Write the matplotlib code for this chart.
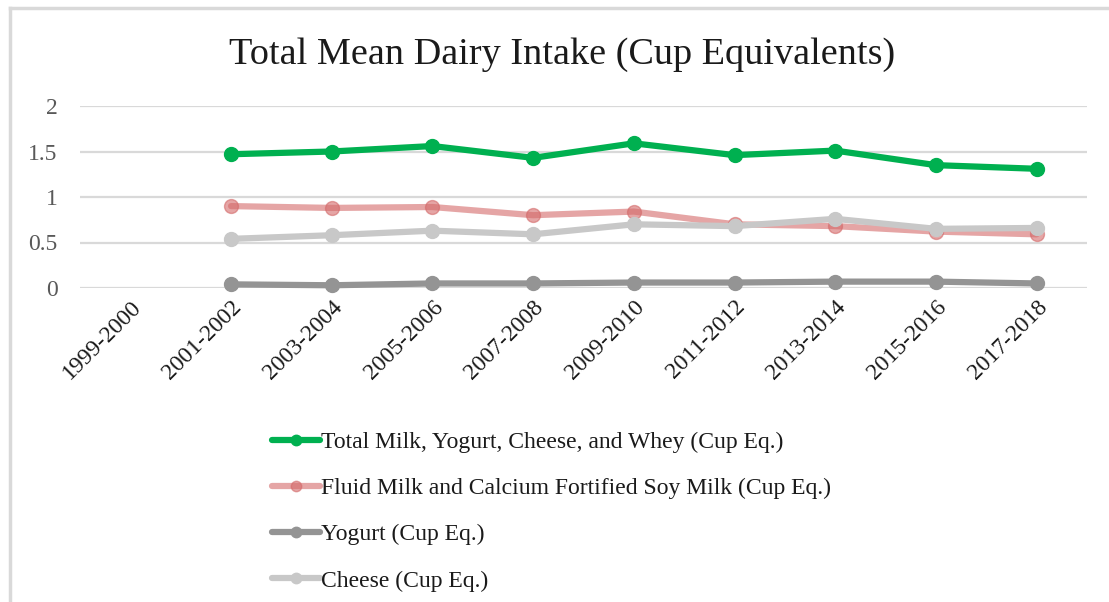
import matplotlib.pyplot as plt
from matplotlib.lines import Line2D
import numpy as np

periods = ["1999-2000", "2001-2002", "2003-2004", "2005-2006", "2007-2008",
           "2009-2010", "2011-2012", "2013-2014", "2015-2016", "2017-2018"]

# no values for 1999-2000
total = [None, 1.47, 1.50, 1.56, 1.43, 1.59, 1.46, 1.51, 1.35, 1.31]
fluid_milk = [None, 0.90, 0.88, 0.89, 0.80, 0.84, 0.70, 0.68, 0.62, 0.59]
yogurt = [None, 0.04, 0.03, 0.05, 0.05, 0.06, 0.06, 0.07, 0.07, 0.05]
cheese = [None, 0.54, 0.58, 0.63, 0.59, 0.70, 0.68, 0.76, 0.65, 0.66]

labels = ["Total Milk, Yogurt, Cheese, and Whey (Cup Eq.)",
          "Fluid Milk and Calcium Fortified Soy Milk (Cup Eq.)",
          "Yogurt (Cup Eq.)",
          "Cheese (Cup Eq.)"]

plt.rcParams["font.family"] = ["Liberation Serif", "DejaVu Serif"]

W, H = 1109, 602
fig = plt.figure(figsize=(W / 100, H / 100), dpi=100)
ax = fig.add_axes([80 / W, 1 - 288 / H, 1007 / W, 182 / H])

x = np.arange(len(periods))


def arr(v):
    return np.array([np.nan if a is None else a for a in v], dtype=float)


series = [
    (total, "#00B050", 1.0),
    (fluid_milk, "#D46A6A", 0.6),
    (yogurt, "#949494", 1.0),
    (cheese, "#C8C8C8", 1.0),
]

handles = []
for (vals, c, a), lab in zip(series, labels):
    h, = ax.plot(x, arr(vals), color=c, lw=4.5, marker="o", ms=10,
                 markerfacecolor=c, markeredgecolor=c, alpha=a,
                 solid_capstyle="round", clip_on=False, label=lab)
    handles.append(h)

ax.set_xlim(-0.5, len(periods) - 0.5)
ax.set_ylim(0, 2)
ax.set_yticks([0, 0.5, 1, 1.5, 2])
ax.set_yticklabels(["0", "0.5", "1", "1.5", "2"])
ax.set_xticks(x)
ax.set_xticklabels(periods, rotation=45, ha="right", rotation_mode="anchor")
ax.tick_params(axis="y", length=0, pad=16, labelsize=17, labelcolor="#595959")
ax.tick_params(axis="x", length=0, pad=6, labelsize=17, labelcolor="#1a1a1a")
ax.grid(axis="y", color="#D9D9D9", lw=1.6)
ax.set_axisbelow(True)
for s in ax.spines.values():
    s.set_visible(False)

fig.text(562 / W, 1 - 55 / H, "Total Mean Dairy Intake (Cup Equivalents)",
         ha="center", va="center", fontsize=27.5, color="#1a1a1a")

fig.legend(handles=handles, loc="upper left", bbox_to_anchor=(251 / W, 1 - 410 / H),
           frameon=False, fontsize=17, handlelength=2.03, handletextpad=0.05,
           labelspacing=1.05, markerscale=0.75, labelcolor="#1a1a1a")

# light frame around the chart area
fig.add_artist(Line2D([10 / W, 1], [1 - 8 / H, 1 - 8 / H], color="#D9D9D9", lw=2.5))
fig.add_artist(Line2D([10 / W, 10 / W], [0, 1 - 8 / H], color="#D9D9D9", lw=2.5))

fig.savefig("out.png", dpi=100)
